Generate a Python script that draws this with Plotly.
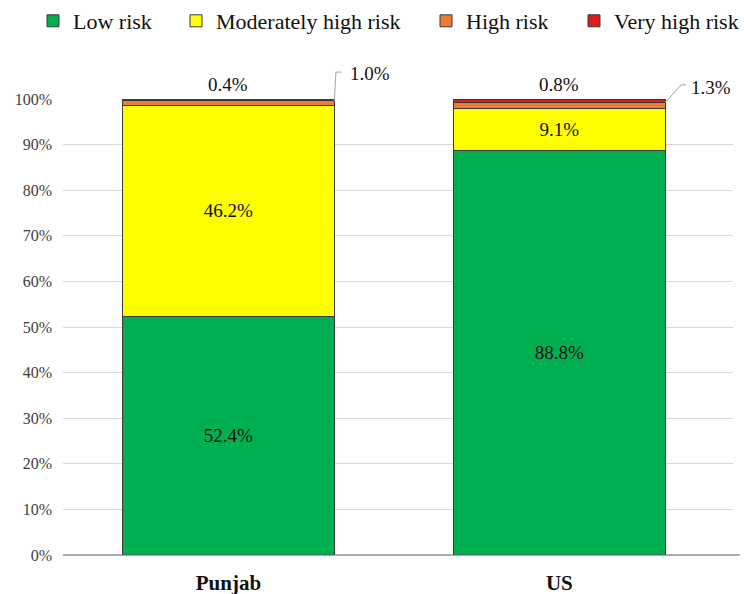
import plotly.graph_objects as go

# Risk-category shares (%) for each population
regions = ["Punjab", "US"]
low_risk = [52.4, 88.8]
moderately_high_risk = [46.2, 9.1]
high_risk = [1.0, 1.3]
very_high_risk = [0.4, 0.8]

series_names = ["Low risk", "Moderately high risk", "High risk", "Very high risk"]
series_colors = ["#00B050", "#FFFF00", "#ED7D31", "#E01B1B"]

y_ticks = [0, 10, 20, 30, 40, 50, 60, 70, 80, 90, 100]
Y_MAX = 100

FONT = "Times New Roman, Liberation Serif, serif"
BAR_WIDTH = 0.64
W, H = 744, 594

# Left edge (px) of each legend entry, one legend per series so the row is spaced out
legend_left_px = [33, 176, 426, 574]
legend_ids = ["legend", "legend2", "legend3", "legend4"]

fig = go.Figure()
series_values = [low_risk, moderately_high_risk, high_risk, very_high_risk]
for idx, (name, vals, color) in enumerate(zip(series_names, series_values, series_colors)):
    inside = idx < 2
    fig.add_trace(go.Bar(
        x=regions, y=vals, name=name, width=BAR_WIDTH,
        marker=dict(color=color, line=dict(color="#3a3a3a", width=1)),
        text=[f"{v:.1f}%" for v in vals] if inside else None,
        textposition="inside" if inside else "none",
        insidetextanchor="middle", textangle=0,
        insidetextfont=dict(family=FONT, size=19, color="#111111"),
        constraintext="none", cliponaxis=False,
        hoverinfo="name+y",
        legend=legend_ids[idx],
    ))

annotations = []
shapes = []
half = BAR_WIDTH / 2

# Very-high-risk labels sit centred just above each bar (paper y, since they lie above the axis range)
for i, v in enumerate(very_high_risk):
    annotations.append(dict(
        x=i, y=103.1 / Y_MAX, xref="x", yref="paper", text=f"{v:.1f}%", showarrow=False,
        font=dict(family=FONT, size=19, color="#111111"), yanchor="middle",
    ))

# High-risk labels use an elbow leader line from the bar's upper-right corner
# (dx_elbow, y_line, dx_end, dx_text, y_text) per bar
leader_geom = [
    (0.005, 105.9, 0.022, 0.042, 105.5),
    (0.048, 103.1, 0.063, 0.072, 102.6),
]
for i, (v, geo) in enumerate(zip(high_risk, leader_geom)):
    dx_elbow, y_line, dx_end, dx_text, y_text = geo
    top = low_risk[i] + moderately_high_risk[i] + high_risk[i]
    x0 = i + half
    shapes.append(dict(
        type="path", xref="x", yref="paper",
        path=f"M {x0},{top / Y_MAX} L {x0 + dx_elbow},{y_line / Y_MAX} L {x0 + dx_end},{y_line / Y_MAX}",
        line=dict(color="#A6A6A6", width=1),
    ))
    annotations.append(dict(
        x=x0 + dx_text, y=y_text / Y_MAX, xref="x", yref="paper", text=f"{v:.1f}%",
        showarrow=False, xanchor="left", yanchor="middle",
        font=dict(family=FONT, size=19, color="#111111"),
    ))

# Baseline axis runs a little past the right edge of the plotting area
shapes.append(dict(
    type="line", xref="paper", yref="paper", x0=0, x1=1.01, y0=0, y1=0,
    line=dict(color="#595959", width=1), layer="above",
))

legend_layouts = {}
for lid, left in zip(legend_ids, legend_left_px):
    legend_layouts[lid] = dict(
        orientation="h", xref="container", yref="container",
        x=left / W, y=1.0, xanchor="left", yanchor="top",
        font=dict(family=FONT, size=22, color="#111111"),
        itemwidth=30, bgcolor="rgba(0,0,0,0)",
    )

fig.update_layout(
    barmode="stack",
    width=W, height=H,
    margin=dict(l=63, r=11, t=99, b=39, autoexpand=False),
    paper_bgcolor="white", plot_bgcolor="white",
    font=dict(family=FONT, size=16, color="#111111"),
    showlegend=True,
    xaxis=dict(
        showgrid=False, showline=False, ticks="", automargin=False,
        tickvals=regions, ticktext=[f"<b>{r}</b>" for r in regions],
        tickfont=dict(family=FONT, size=21, color="#111111"),
        ticklabelstandoff=13,
    ),
    yaxis=dict(
        range=[0, Y_MAX], tickvals=y_ticks, ticktext=[f"{t}%" for t in y_ticks],
        showgrid=True, gridcolor="#D9D9D9", gridwidth=1, automargin=False,
        zeroline=False, showline=False, ticks="",
        tickfont=dict(family=FONT, size=16, color="#404040"),
        ticklabelstandoff=10,
    ),
    shapes=shapes,
    annotations=annotations,
    bargap=0.36,
    **legend_layouts,
)

fig.write_html("out.html")
